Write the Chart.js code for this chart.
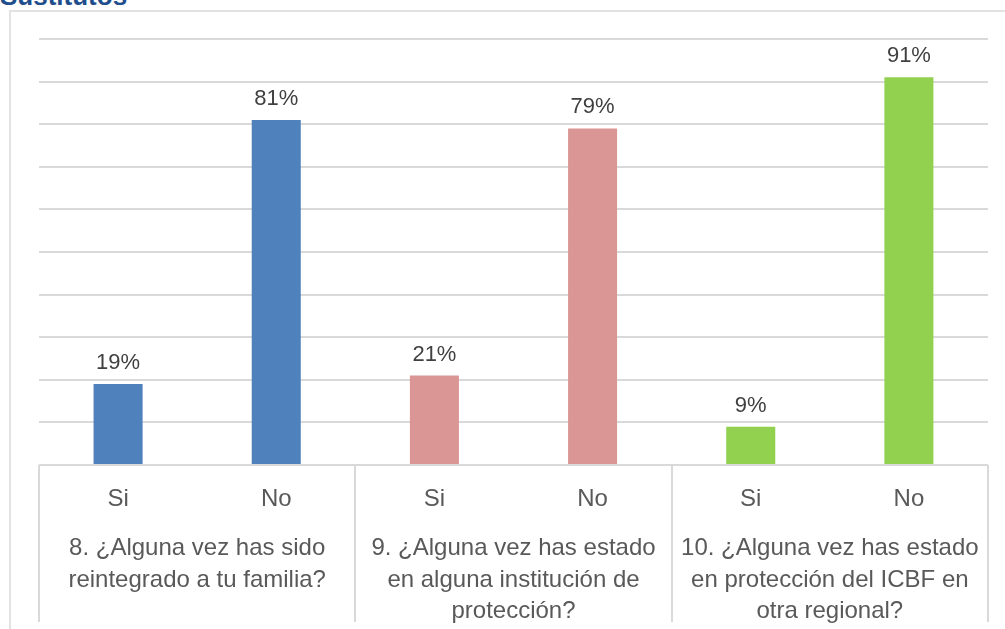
<!DOCTYPE html>
<html lang="es">
<head>
<meta charset="utf-8">
<title>Sustitutos</title>
<script src="https://cdn.jsdelivr.net/npm/chart.js@4/dist/chart.umd.min.js"></script>
<style>
  html, body { margin: 0; padding: 0; background: #ffffff; }
  body { width: 1005px; height: 629px; position: relative; overflow: hidden; }
  #title {
    position: absolute; left: 0; top: -17px;
    font: bold 26px "Liberation Sans", Arial, sans-serif;
    line-height: 26px; color: #1F4E8C; white-space: nowrap;
  }
  #frame {
    position: absolute; left: 9px; top: 10px; right: -4px; bottom: -4px;
    border-left: 2px solid #E2E2E2; border-top: 2px solid #E2E2E2;
  }
  #wrap { position: absolute; left: 0; top: 0; width: 1005px; height: 629px; }
</style>
</head>
<body>
<div id="title">Sustitutos</div>
<div id="frame"></div>
<div id="wrap"><canvas id="chart"></canvas></div>
<script>
// Answer options, one bar each
const categories = ['Si', 'No', 'Si', 'No', 'Si', 'No'];
// Question under each pair of bars
const questions = [
  ['8. ¿Alguna vez has sido', 'reintegrado a tu familia?'],
  ['9. ¿Alguna vez has estado', 'en alguna institución de', 'protección?'],
  ['10. ¿Alguna vez has estado', 'en protección del ICBF en', 'otra regional?']
];
// Share of answers (%)
const percentages = [19, 81, 21, 79, 9, 91];
// One colour per question
const questionColors = ['#4F81BD', '#D99694', '#92D050'];
const barColors = categories.map((_, i) => questionColors[Math.floor(i / 2)]);

const FONT = '"Liberation Sans", Arial, sans-serif';
const TEXT_GREY = '#595959';
const LINE_GREY = '#D9D9D9';

// Percent labels above each bar
const valueLabels = {
  id: 'valueLabels',
  afterDatasetsDraw(chart) {
    const ctx = chart.ctx;
    const meta = chart.getDatasetMeta(0);
    ctx.save();
    ctx.font = '22px ' + FONT;
    ctx.fillStyle = '#404040';
    ctx.textAlign = 'center';
    ctx.textBaseline = 'alphabetic';
    meta.data.forEach((bar, i) => {
      ctx.fillText(percentages[i] + '%', bar.x, bar.y - 15);
    });
    ctx.restore();
  }
};

// Vertical dividers between question groups under the axis
const groupDividers = {
  id: 'groupDividers',
  afterDraw(chart) {
    const ctx = chart.ctx;
    const g = chart.scales.x2;
    const n = questions.length;
    const step = g.width / n;
    ctx.save();
    ctx.strokeStyle = LINE_GREY;
    ctx.lineWidth = 2;
    for (let i = 0; i <= n; i++) {
      const x = Math.round(g.left + i * step);
      ctx.beginPath();
      ctx.moveTo(x, chart.chartArea.bottom);
      ctx.lineTo(x, g.bottom - 7);
      ctx.stroke();
    }
    ctx.restore();
  }
};

new Chart(document.getElementById('chart'), {
  type: 'bar',
  data: {
    labels: categories,
    datasets: [{
      data: percentages,
      backgroundColor: barColors,
      borderWidth: 0,
      barPercentage: 0.31,
      categoryPercentage: 1
    }]
  },
  options: {
    responsive: true,
    maintainAspectRatio: false,
    animation: false,
    layout: { padding: { left: 39, right: 17, top: 39, bottom: 0 } },
    plugins: { legend: { display: false }, tooltip: { enabled: false } },
    scales: {
      y: {
        min: 0, max: 100,
        ticks: { display: false, stepSize: 10 },
        border: { display: false },
        grid: { color: LINE_GREY, lineWidth: 2, drawTicks: false }
      },
      x: {
        position: 'bottom',
        weight: 0,
        offset: true,
        grid: { display: false },
        border: { display: false },
        ticks: {
          color: TEXT_GREY, font: { family: FONT, size: 24 },
          padding: 11.6, maxRotation: 0, autoSkip: false
        },
        afterFit(scale) { scale.height = 57; }
      },
      x2: {
        type: 'category',
        position: 'bottom',
        weight: 1,
        labels: questions,
        offset: true,
        grid: { display: false },
        border: { display: false },
        ticks: {
          color: TEXT_GREY, font: { family: FONT, size: 24, lineHeight: 1.3125 },
          padding: 3, maxRotation: 0, autoSkip: false
        },
        afterFit(scale) { scale.height = 107; }
      }
    }
  },
  plugins: [valueLabels, groupDividers]
});
</script>
</body>
</html>
